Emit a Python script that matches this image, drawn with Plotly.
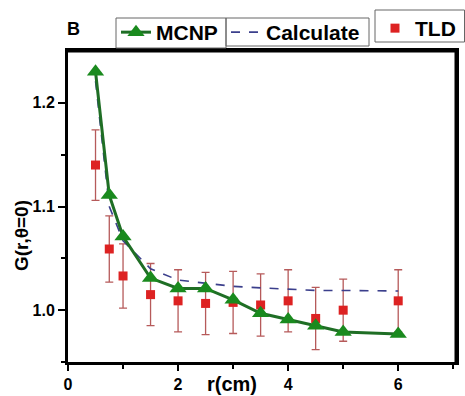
import plotly.graph_objects as go

r_mcnp = [0.5, 0.75, 1, 1.5, 2, 2.5, 3, 3.5, 4, 4.5, 5, 6]
g_mcnp = [1.23, 1.111, 1.071, 1.031, 1.021, 1.021, 1.010, 0.997, 0.991, 0.985, 0.979, 0.977]

r_calc = [0.5, 0.75, 1, 1.5, 2, 2.5, 3, 3.5, 4, 4.5, 5, 6]
g_calc = [1.221, 1.10, 1.067, 1.040, 1.029, 1.026, 1.023, 1.0215, 1.020, 1.019, 1.019, 1.0185]

r_tld = [0.5, 0.75, 1, 1.5, 2, 2.5, 3, 3.5, 4, 4.5, 5, 6]
g_tld = [1.140, 1.059, 1.033, 1.015, 1.009, 1.0065, 1.0075, 1.005, 1.009, 0.992, 1.000, 1.009]
err_tld = [0.034, 0.032, 0.031, 0.030, 0.030, 0.030, 0.030, 0.030, 0.030, 0.030, 0.030, 0.030]

x_ticks = [0, 2, 4, 6]
y_ticks = [1.0, 1.1, 1.2]
y_tick_text = ["1.0", "1.1", "1.2"]

FONT = "Liberation Sans"

# plot-area geometry in pixels (used only for placing boxes/labels)
L, R, T, B = 68, 456, 51, 362
W, H = R - L, B - T


def px(xp):
    return (xp - L) / W


def py(yp):
    return (B - yp) / H


fig = go.Figure()
fig.add_trace(go.Scatter(
    x=r_tld, y=g_tld, mode="markers", name="<b>TLD</b>", legend="legend3",
    marker=dict(symbol="square", size=9, color="#dd2222"),
    error_y=dict(type="data", array=err_tld, color="#b65a5a", thickness=1.3, width=4),
))
fig.add_trace(go.Scatter(
    x=r_calc, y=g_calc, mode="lines", name="<b>Calculate</b>", legend="legend2",
    line=dict(color="#3b3f8c", width=1.6, dash="dash"),
))
fig.add_trace(go.Scatter(
    x=r_mcnp, y=g_mcnp, mode="lines+markers", name="<b>MCNP</b>", legend="legend",
    line=dict(color="#1f6e25", width=3),
    marker=dict(symbol="triangle-up", size=15, color="#1a8a1e"),
))

leg_common = dict(
    orientation="h", xanchor="left", yanchor="top",
    font=dict(family=FONT, size=21, color="black"),
    borderwidth=0, bgcolor="rgba(0,0,0,0)",
    itemwidth=30,
)

box_line = dict(color="#666", width=1)

fig.update_layout(
    width=465, height=396,
    margin=dict(l=L, r=465 - R, t=T, b=396 - B, autoexpand=False),
    paper_bgcolor="white", plot_bgcolor="white",
    font=dict(family=FONT, color="black"),
    showlegend=True,
    legend=dict(x=px(116), y=py(12), **leg_common),
    legend2=dict(x=px(226), y=py(12), **leg_common),
    legend3=dict(x=px(375), y=py(8), **leg_common),
    annotations=[
        dict(text="<b>B</b>", x=px(65), y=py(29), xref="paper", yref="paper", xanchor="left", yanchor="middle",
             showarrow=False, font=dict(size=18, family=FONT)),
        dict(text="<b>r(cm)</b>", x=2.98, y=py(371), xref="x", yref="paper", xanchor="center", yanchor="top",
             showarrow=False, font=dict(size=20, family=FONT)),
        dict(text="<b>G(r,θ=0)</b>", x=px(21), y=py(236), xref="paper", yref="paper",
             xanchor="center", yanchor="middle",
             showarrow=False, textangle=-90, font=dict(size=19, family=FONT)),
    ],
    shapes=[
        dict(type="line", xref="paper", yref="paper", x0=1, x1=1, y0=0, y1=1,
             line=dict(color="black", width=3), layer="above"),
        dict(type="line", xref="paper", yref="paper", x0=0, x1=1, y0=1, y1=1,
             line=dict(color="black", width=3), layer="above"),
        dict(type="rect", xref="paper", yref="paper", x0=px(116), x1=px(226), y0=py(48), y1=py(18),
             line=box_line, fillcolor="rgba(0,0,0,0)"),
        dict(type="rect", xref="paper", yref="paper", x0=px(226), x1=px(369), y0=py(46), y1=py(18),
             line=box_line, fillcolor="rgba(0,0,0,0)"),
        dict(type="rect", xref="paper", yref="paper", x0=px(375), x1=px(464.5), y0=py(42), y1=py(10),
             line=box_line, fillcolor="rgba(0,0,0,0)"),
    ],
)

fig.update_xaxes(
    range=[0, 7.05], tickvals=x_ticks, ticks="outside", ticklen=6, tickwidth=2, tickcolor="black",
    showline=True, linewidth=3, linecolor="black", mirror=True, showgrid=False, zeroline=False,
    tickfont=dict(size=16, family=FONT, weight="bold"),
    minor=dict(tickvals=[1, 3, 5, 7], ticks="outside", ticklen=4, tickwidth=2, tickcolor="black"),
)
fig.update_yaxes(
    range=[0.95, 1.25], tickvals=y_ticks, ticktext=y_tick_text, ticks="outside", ticklen=7, tickwidth=2,
    tickcolor="black",
    showline=True, linewidth=3, linecolor="black", mirror=True, showgrid=False, zeroline=False,
    tickfont=dict(size=16, family=FONT, weight="bold"),
    minor=dict(tickvals=[0.95, 1.05, 1.15], ticks="outside", ticklen=4, tickwidth=2, tickcolor="black"),
)

fig.write_html("out.html", config={"displayModeBar": False},
               post_script="document.body.style.margin='0';document.body.style.overflow='hidden';")
